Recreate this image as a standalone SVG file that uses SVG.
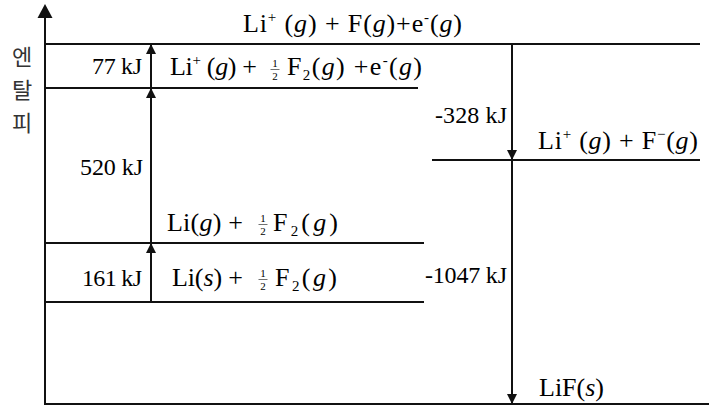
<svg xmlns="http://www.w3.org/2000/svg" width="709" height="408" viewBox="0 0 709 408">
<style>
.ln{stroke:#111;stroke-width:2;fill:none}
.t{font-family:"Liberation Serif","Times New Roman",serif;fill:#000}
.c{font-size:26px}
.k{font-size:24px}
.fr{font-size:11px;text-anchor:middle}
.i{font-style:italic}
.sp{font-size:15px}
.kr{font-family:"Noto Sans CJK KR","Noto Sans",sans-serif;font-size:22px;fill:#333;text-anchor:middle}
</style>
<defs>
<marker id="ah" viewBox="0 0 10 10" markerWidth="10" markerHeight="10" markerUnits="userSpaceOnUse" refX="10" refY="5" orient="auto">
<path d="M0,0 L10,5 L0,10 z" fill="#111"/>
</marker>
</defs>
<g id="axis">
<line class="ln" x1="45" y1="405" x2="45" y2="14"/>
<polygon points="45,4 52.5,18 37.5,18" fill="#111"/>
<text class="kr" x="22" y="65">엔</text>
<text class="kr" x="22" y="98">탈</text>
<text class="kr" x="22" y="131">피</text>
</g>
<g id="connectors">
<line class="ln" x1="151" y1="302" x2="151" y2="243" marker-end="url(#ah)"/>
<line class="ln" x1="151" y1="243" x2="151" y2="88" marker-end="url(#ah)"/>
<line class="ln" x1="151" y1="88" x2="151" y2="44" marker-end="url(#ah)"/>
<line class="ln" x1="512" y1="44" x2="512" y2="160" marker-end="url(#ah)"/>
<line class="ln" x1="512" y1="160" x2="512" y2="404" marker-end="url(#ah)"/>
</g>
<g id="level-top">
<line class="ln" x1="45" y1="44" x2="700" y2="44"/>
<text class="t c" x="243" y="32" textLength="219" lengthAdjust="spacing">Li<tspan class="sp" dy="-10">+</tspan><tspan dy="10"> (</tspan><tspan class="i">g</tspan>) + F(<tspan class="i">g</tspan>)+e<tspan class="sp" dy="-10">-</tspan><tspan dy="10">(</tspan><tspan class="i">g</tspan>)</text>
</g>
<g id="level-ion-halfF2">
<line class="ln" x1="45" y1="88" x2="418" y2="88"/>
<text class="t c" x="170" y="75" textLength="87" lengthAdjust="spacing">Li<tspan class="sp" dy="-10">+</tspan><tspan dy="10"> (</tspan><tspan class="i">g</tspan>) +</text>
<text class="t fr" x="275" y="67">1</text>
<line x1="270.5" y1="69.5" x2="279.5" y2="69.5" stroke="#111" stroke-width="0.6"/>
<text class="t fr" x="275" y="80">2</text>
<text class="t c" x="287" y="75" textLength="135" lengthAdjust="spacing">F<tspan class="sp" dy="5">2</tspan><tspan dy="-5">(</tspan><tspan class="i">g</tspan>) +e<tspan class="sp" dy="-10">-</tspan><tspan dy="10">(</tspan><tspan class="i">g</tspan>)</text>
<text class="t k" x="92" y="74" textLength="50" lengthAdjust="spacing">77 kJ</text>
</g>
<g id="level-ions">
<line class="ln" x1="432" y1="160" x2="700" y2="160"/>
<text class="t c" x="538" y="149" textLength="160" lengthAdjust="spacing">Li<tspan class="sp" dy="-10">+</tspan><tspan dy="10"> (</tspan><tspan class="i">g</tspan>) + F<tspan class="sp" dy="-10">−</tspan><tspan dy="10">(</tspan><tspan class="i">g</tspan>)</text>
<text class="t k" x="435" y="123" textLength="72" lengthAdjust="spacing">-328 kJ</text>
</g>
<g id="level-Li-gas">
<line class="ln" x1="45" y1="243" x2="424" y2="243"/>
<text class="t c" x="167" y="231" textLength="76" lengthAdjust="spacing">Li(<tspan class="i">g</tspan>) +</text>
<text class="t fr" x="263" y="222">1</text>
<line x1="258.5" y1="224.5" x2="267.5" y2="224.5" stroke="#111" stroke-width="0.6"/>
<text class="t fr" x="263" y="235">2</text>
<text class="t c" x="273" y="231" textLength="65" lengthAdjust="spacing">F<tspan class="sp" dy="5">2</tspan><tspan dy="-5">(</tspan><tspan class="i">g</tspan>)</text>
<text class="t k" x="80" y="175" textLength="63" lengthAdjust="spacing">520 kJ</text>
</g>
<g id="level-Li-solid">
<line class="ln" x1="45" y1="302" x2="424" y2="302"/>
<text class="t c" x="172" y="286" textLength="71" lengthAdjust="spacing">Li(<tspan class="i">s</tspan>) +</text>
<text class="t fr" x="263" y="277">1</text>
<line x1="258.5" y1="279.5" x2="267.5" y2="279.5" stroke="#111" stroke-width="0.6"/>
<text class="t fr" x="263" y="290">2</text>
<text class="t c" x="275" y="286" textLength="62" lengthAdjust="spacing">F<tspan class="sp" dy="5">2</tspan><tspan dy="-5">(</tspan><tspan class="i">g</tspan>)</text>
<text class="t k" x="82" y="286" textLength="60" lengthAdjust="spacing">161 kJ</text>
</g>
<g id="level-LiF">
<line class="ln" x1="45" y1="404" x2="709" y2="404"/>
<text class="t c" x="539" y="396" textLength="65" lengthAdjust="spacing">LiF(<tspan class="i">s</tspan>)</text>
<text class="t k" x="425" y="283" textLength="82" lengthAdjust="spacing">-1047 kJ</text>
</g>
</svg>
